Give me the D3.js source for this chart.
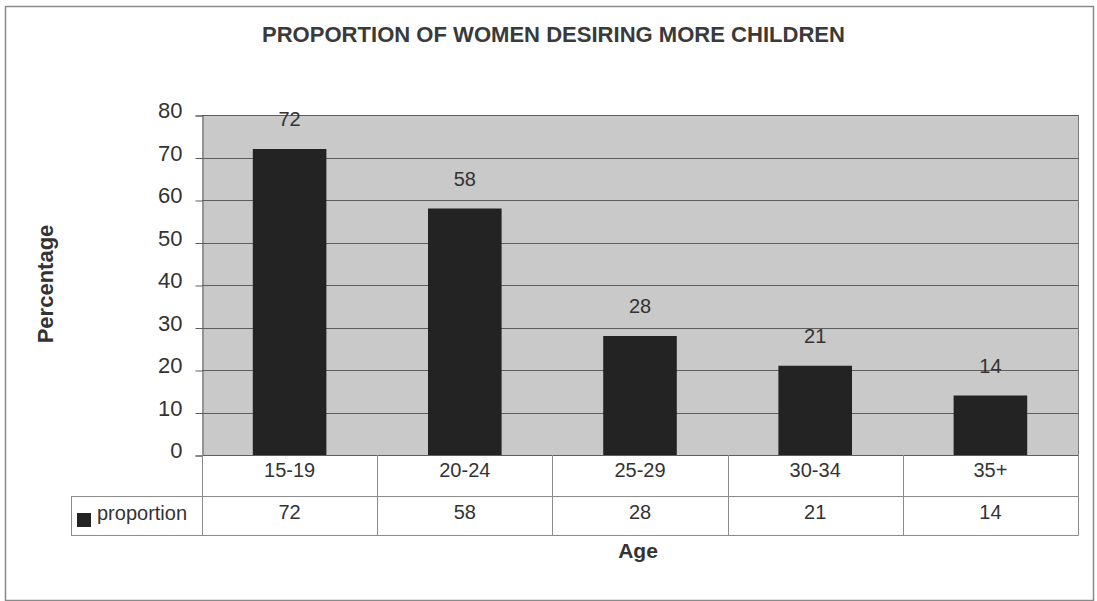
<!DOCTYPE html>
<html>
<head>
<meta charset="utf-8">
<script src="https://cdn.jsdelivr.net/npm/d3@7"></script>
<style>
  html, body { margin: 0; padding: 0; background: #fff; }
  svg { display: block; font-family: Arial, "Liberation Sans", sans-serif; }
</style>
</head>
<body>
<svg id="chart" width="1097" height="601"></svg>
<script>
// Proportion of women desiring more children, by age group
const categories = ["15-19", "20-24", "25-29", "30-34", "35+"];
const proportion = [72, 58, 28, 21, 14];
const yTicks = [0, 10, 20, 30, 40, 50, 60, 70, 80];
const seriesName = "proportion";

const svg = d3.select("#chart");

const plot = { left: 202, right: 1078, top: 115, bottom: 455 };
const row1Bottom = 496, row2Bottom = 535, legendLeft = 71;

const x = d3.scaleBand()
  .domain(categories)
  .range([plot.left, plot.right])
  .paddingInner(0.58)
  .paddingOuter(0.29);

const xCell = d3.scaleBand()
  .domain(categories)
  .range([plot.left, plot.right])
  .padding(0);

const y = d3.scaleLinear().domain([0, 80]).range([plot.bottom, plot.top]);

// outer frame
svg.append("rect")
  .attr("x", 5.5).attr("y", 6.5)
  .attr("width", 1088).attr("height", 594)
  .attr("fill", "none").attr("stroke", "#8a8a8a").attr("stroke-width", 1.5);

// title
svg.append("text")
  .attr("x", 553.5).attr("y", 42)
  .attr("text-anchor", "middle")
  .attr("font-size", 22).attr("font-weight", "bold")
  .attr("fill", "#3a3a3a")
  .attr("textLength", 583).attr("lengthAdjust", "spacingAndGlyphs")
  .text("PROPORTION OF WOMEN DESIRING MORE CHILDREN");

// plot background
svg.append("rect")
  .attr("x", plot.left).attr("y", plot.top)
  .attr("width", plot.right - plot.left).attr("height", plot.bottom - plot.top)
  .attr("fill", "#c9c9c9");

// gridlines
svg.append("g")
  .selectAll("line")
  .data(yTicks)
  .join("line")
  .attr("x1", plot.left).attr("x2", plot.right)
  .attr("y1", d => Math.round(y(d)) + 0.5).attr("y2", d => Math.round(y(d)) + 0.5)
  .attr("stroke", "#5e5e5e").attr("stroke-width", 1);

// y axis
const yAxis = d3.axisLeft(y).tickValues(yTicks).tickSize(7).tickPadding(12);
const gy = svg.append("g")
  .attr("transform", `translate(${plot.left + 0.5},0.5)`)
  .call(yAxis);
gy.select(".domain").attr("stroke", "#5e5e5e");
gy.selectAll(".tick line").attr("stroke", "#5e5e5e");
gy.selectAll(".tick text")
  .attr("font-size", 22).attr("fill", "#333")
  .attr("font-family", "Arial, 'Liberation Sans', sans-serif")
  .attr("dy", "2px")
  .attr("x", -20);

// right edge of plot
svg.append("line")
  .attr("x1", plot.right + 0.5).attr("x2", plot.right + 0.5)
  .attr("y1", plot.top).attr("y2", plot.bottom)
  .attr("stroke", "#777");

// bars
svg.append("g")
  .selectAll("rect")
  .data(categories)
  .join("rect")
  .attr("x", d => x(d))
  .attr("width", x.bandwidth())
  .attr("y", (d, i) => y(proportion[i]))
  .attr("height", (d, i) => y(0) - y(proportion[i]))
  .attr("fill", "#232323");

// value labels
svg.append("g")
  .selectAll("text")
  .data(categories)
  .join("text")
  .attr("x", d => x(d) + x.bandwidth() / 2)
  .attr("y", (d, i) => y(proportion[i]) - 23)
  .attr("text-anchor", "middle")
  .attr("font-size", 20).attr("fill", "#333")
  .text((d, i) => proportion[i]);

// data table
const table = svg.append("g").attr("stroke", "#8c8c8c").attr("stroke-width", 1);
// horizontal lines
table.append("line").attr("x1", legendLeft).attr("x2", plot.right + 0.5)
  .attr("y1", row1Bottom + 0.5).attr("y2", row1Bottom + 0.5);
table.append("line").attr("x1", legendLeft).attr("x2", plot.right + 0.5)
  .attr("y1", row2Bottom + 0.5).attr("y2", row2Bottom + 0.5);
// vertical lines at category boundaries
const bounds = categories.map(c => xCell(c)).concat([plot.right]);
table.selectAll("line.v")
  .data(bounds)
  .join("line")
  .attr("class", "v")
  .attr("x1", d => Math.round(d) + 0.5).attr("x2", d => Math.round(d) + 0.5)
  .attr("y1", plot.bottom).attr("y2", row2Bottom + 0.5);
table.append("line").attr("x1", legendLeft + 0.5).attr("x2", legendLeft + 0.5)
  .attr("y1", row1Bottom).attr("y2", row2Bottom + 0.5);

// category labels
svg.append("g")
  .selectAll("text")
  .data(categories)
  .join("text")
  .attr("x", d => xCell(d) + xCell.bandwidth() / 2)
  .attr("y", 477)
  .attr("text-anchor", "middle")
  .attr("font-size", 20).attr("fill", "#333")
  .text(d => d);

// values row
svg.append("g")
  .selectAll("text")
  .data(categories)
  .join("text")
  .attr("x", d => xCell(d) + xCell.bandwidth() / 2)
  .attr("y", 519)
  .attr("text-anchor", "middle")
  .attr("font-size", 20).attr("fill", "#333")
  .text((d, i) => proportion[i]);

// legend key
svg.append("rect")
  .attr("x", 77).attr("y", 513).attr("width", 14).attr("height", 14)
  .attr("fill", "#232323");
svg.append("text")
  .attr("x", 97).attr("y", 520)
  .attr("font-size", 20).attr("fill", "#333")
  .text(seriesName);

// axis titles
svg.append("text")
  .attr("transform", "translate(53,284) rotate(-90)")
  .attr("text-anchor", "middle")
  .attr("font-size", 22).attr("font-weight", "bold").attr("fill", "#333")
  .text("Percentage");

svg.append("text")
  .attr("x", 638).attr("y", 558)
  .attr("text-anchor", "middle")
  .attr("font-size", 21).attr("font-weight", "bold").attr("fill", "#333")
  .text("Age");
</script>
</body>
</html>
